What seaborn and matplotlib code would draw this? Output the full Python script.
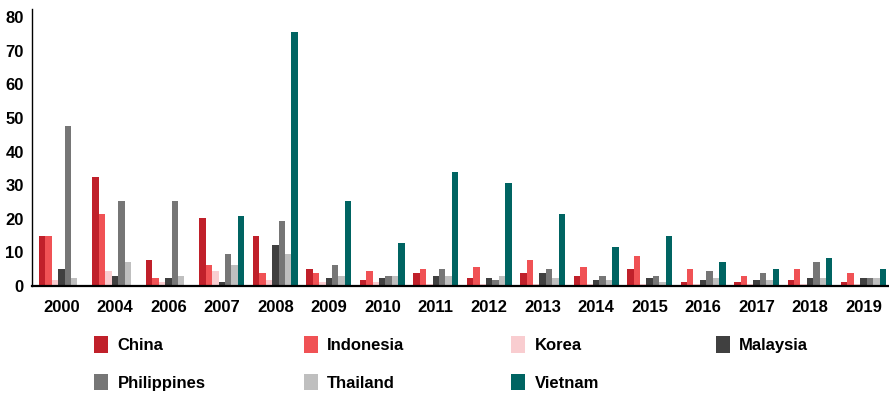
import numpy as np
import pandas as pd
import matplotlib
matplotlib.use('Agg')
import matplotlib.pyplot as plt
import seaborn as sns
from matplotlib.patches import Patch

years = ['2000', '2004', '2006', '2007', '2008', '2009', '2010', '2011',
         '2012', '2013', '2014', '2015', '2016', '2017', '2018', '2019']
countries = ['China', 'Indonesia', 'Korea', 'Malaysia', 'Philippines', 'Thailand', 'Vietnam']

china = [15.0, 32.3, 7.7, 20.2, 14.8, 5.0, 1.8, 3.9, 2.4, 3.9, 3.0, 5.0, 1.2, 1.2, 1.8, 1.2]
indonesia = [15.0, 21.4, 2.4, 6.2, 3.9, 3.9, 4.5, 5.0, 5.6, 7.7, 5.6, 8.9, 5.0, 3.0, 5.0, 3.9]
korea = [1.8, 4.5, 1.2, 4.5, 1.8, 1.2, 1.2, 0.6, 0.6, 0.6, 0.6, 0.6, 0.6, 0.6, 0.6, 0.6]
malaysia = [5.1, 3.0, 2.4, 1.2, 12.2, 2.4, 2.4, 3.0, 2.4, 3.9, 1.8, 2.4, 1.8, 1.8, 2.4, 2.4]
philippines = [47.5, 25.2, 25.2, 9.5, 19.3, 6.2, 3.0, 5.0, 1.8, 5.0, 3.0, 3.0, 4.5, 3.9, 7.1, 2.4]
thailand = [2.5, 7.1, 3.0, 6.2, 9.5, 3.0, 3.0, 3.0, 3.0, 2.4, 1.8, 1.2, 2.4, 1.8, 2.4, 2.4]
vietnam = [0, 0, 0, 20.8, 75.7, 25.2, 12.8, 33.8, 30.6, 21.4, 11.6, 14.8, 7.1, 5.0, 8.3, 5.0]

colors = ['#C0202A', '#F05255', '#F9CDD0', '#404040', '#767676', '#BFBFBF', '#006462']

df = pd.DataFrame({'year': years, 'China': china, 'Indonesia': indonesia, 'Korea': korea,
                   'Malaysia': malaysia, 'Philippines': philippines, 'Thailand': thailand,
                   'Vietnam': vietnam})
long = df.melt(id_vars='year', var_name='country', value_name='value')

sns.set_style('white')
plt.rcParams['font.family'] = ['Liberation Sans', 'DejaVu Sans']
plt.rcParams['font.weight'] = 'bold'
plt.rcParams['text.color'] = 'black'
plt.rcParams['xtick.color'] = 'black'
plt.rcParams['ytick.color'] = 'black'

fig = plt.figure(figsize=(8.89, 3.94), dpi=100)
ax = fig.add_axes([0.036, 0.274, 0.963, 0.703])

sns.barplot(data=long, x='year', y='value', hue='country', hue_order=countries,
            palette=colors, width=0.84, gap=0, saturation=1, legend=False,
            linewidth=0, edgecolor='none', ax=ax)

ax.set_xlim(-0.55, 15.46)
ax.set_ylim(0, 82.4)
ax.set_yticks(range(0, 81, 10))
ax.set_xlabel('')
ax.set_ylabel('')
ax.tick_params(axis='both', length=0, labelsize=12, labelcolor='black')
ax.tick_params(axis='x', pad=10)
ax.tick_params(axis='y', pad=6)
for lbl in ax.get_xticklabels() + ax.get_yticklabels():
    lbl.set_fontweight('bold')
sns.despine(ax=ax)
ax.spines['left'].set_linewidth(1.0)
ax.spines['left'].set_color('black')
ax.spines['bottom'].set_linewidth(1.6)
ax.spines['bottom'].set_color('black')

# legend, laid out as 4 columns placed by hand
col_x = [0.106, 0.342, 0.575, 0.805]
cols = [[0, 4], [1, 5], [2, 6], [3]]
for x, idx in zip(col_x, cols):
    handles = [Patch(facecolor=colors[i], edgecolor='none', label=countries[i]) for i in idx]
    fig.legend(handles=handles, loc='upper left', bbox_to_anchor=(x, 0.147),
               frameon=False, handlelength=0.85, handleheight=1.15,
               handletextpad=0.55, labelspacing=1.25, borderaxespad=0, borderpad=0,
               prop={'weight': 'bold', 'size': 12})

fig.savefig('out.png', dpi=100)
